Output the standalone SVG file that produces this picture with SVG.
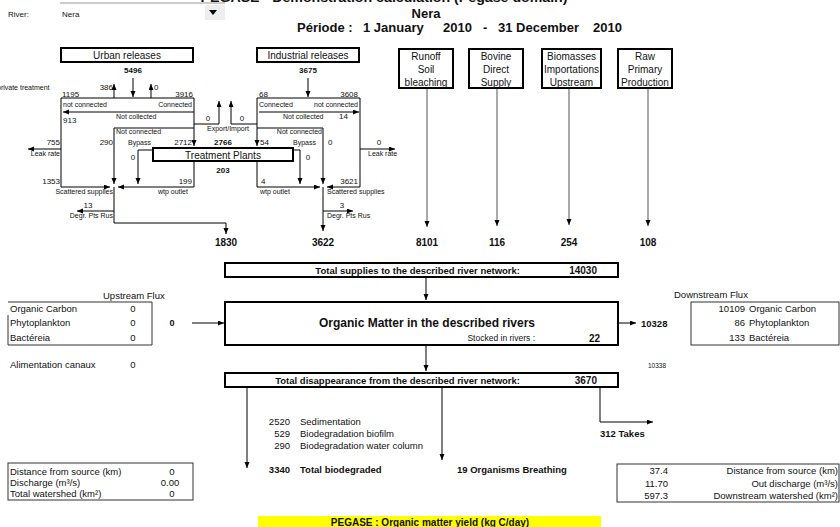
<svg xmlns="http://www.w3.org/2000/svg" width="840" height="527" viewBox="0 0 840 527">
<style>
text{font-family:"Liberation Sans",Arial,Helvetica,sans-serif;fill:#111}
.s{font-size:7px}
.n{font-size:8px}
.nb{font-size:8px;font-weight:bold}
.v{font-size:10px;font-weight:bold}
.m{font-size:10px}
.r{font-size:9.5px}
.rb{font-size:9.5px;font-weight:bold}
.t{font-size:13px;font-weight:bold}
.c{text-anchor:middle}
.e{text-anchor:end}
.box{fill:#fff;stroke:#000;stroke-width:2}
.tbl{fill:none;stroke:#333;stroke-width:1}
.ln{fill:none;stroke:#000;stroke-width:1}
.g{stroke:#555}
.ar{marker-end:url(#ah)}
</style>
<defs>
<marker id="ah" markerWidth="6" markerHeight="6" refX="6" refY="2.5" orient="auto" markerUnits="userSpaceOnUse"><path d="M0,0 L6,2.5 L0,5 z" fill="#000"/></marker>
</defs>
<rect width="840" height="527" fill="#fff"/>

<g id="header">
<text class="t" x="384" y="2" text-anchor="middle" textLength="367" lengthAdjust="spacingAndGlyphs">PEGASE - Demonstration calculation (Pegase domain)</text>
<line x1="60" y1="3" x2="225" y2="3" stroke="#999" stroke-width="1"/>
<rect x="205" y="5" width="20" height="15" fill="#eee"/>
<path d="M209,10 L217,10 L213,15 z" fill="#000"/>
<text x="8" y="17" font-size="8" fill="#555">River:</text>
<text x="62" y="17" font-size="8">Nera</text>
<text class="t c" x="426" y="18">Nera</text>
<text class="t" x="297" y="32">Période :</text>
<text class="t" x="363" y="32">1 January</text>
<text class="t" x="443" y="32">2010</text>
<text class="t" x="483" y="32">-</text>
<text class="t" x="498" y="32">31 December</text>
<text class="t" x="593" y="32">2010</text>
</g>

<g id="connectors">
<!-- urban -->
<path class="ln ar" d="M61,98 H194 V146"/>
<path class="ln ar" d="M61,98 V187 H110"/>
<path class="ln ar" d="M194,112 H63"/>
<path class="ln ar" d="M194,124 H219 V101"/>
<path class="ln ar" d="M257,124 H231 V101"/>
<path class="ln" d="M114,128 H194"/>
<path class="ln ar" d="M114,128 V184"/>
<path class="ln ar" d="M153,150 H138 V184"/>
<path class="ln ar" d="M194,162 V187 H118"/>
<path class="ln ar" d="M61,149 H28"/>
<path class="ln ar" d="M114,187 V223 H226 V234"/>
<path class="ln ar" d="M114,211 H77"/>
<path class="ln ar" d="M114,98 V84"/>
<path class="ln ar" d="M151,98 V84"/>
<path class="ln ar" d="M133,78 V97"/>
<!-- industrial -->
<path class="ln ar" d="M257,98 H360 V187 H327"/>
<path class="ln ar" d="M257,98 V146"/>
<path class="ln ar" d="M259,112 H359"/>
<path class="ln ar" d="M257,128 H323 V184"/>
<path class="ln ar" d="M293,150 H300 V184"/>
<path class="ln ar" d="M257,162 V187 H320"/>
<path class="ln ar" d="M360,149 H395"/>
<path class="ln ar" d="M323,187 V231"/>
<path class="ln ar" d="M323,211 H353"/>
<path class="ln ar" d="M308,78 V97"/>
<!-- other sources -->
<path class="ln g ar" d="M427,88 V227"/>
<path class="ln g ar" d="M497,88 V226"/>
<path class="ln g ar" d="M569,88 V225"/>
<path class="ln g ar" d="M648,88 V226"/>
<!-- main flow -->
<path class="ln ar" d="M426,277 V300"/>
<path class="ln ar" d="M426,345 V371"/>
<path class="ln ar" d="M192,323 H224"/>
<path class="ln ar" d="M619,323 H636"/>
<path class="ln ar" d="M247,388 V468"/>
<path class="ln ar" d="M442,388 V460"/>
<path class="ln ar" d="M600,388 V422 H653"/>
</g>

<g id="urban">
<rect class="box" x="61" y="48" width="132" height="14"/>
<text class="m c" x="127" y="58.5">Urban releases</text>
<text class="nb c" x="133" y="73">5496</text>
<text class="s" x="-3" y="90">private treatment</text>
<text class="n e" x="113" y="90">386</text>
<text class="n" x="154" y="90">0</text>
<text class="n" x="62" y="96.5">1195</text>
<text class="n e" x="193" y="96.5">3916</text>
<text class="s" x="63" y="107">not connected</text>
<text class="s e" x="192" y="107">Connected</text>
<text class="s" x="116" y="119">Not collected</text>
<text class="n" x="63" y="123">913</text>
<text class="s" x="116" y="134">Not connected</text>
<text class="n e" x="113" y="145">290</text>
<text class="s" x="128" y="145">Bypass</text>
<text class="n e" x="192" y="145">2712</text>
<text class="n e" x="60" y="145">755</text>
<text class="s e" x="60" y="156">Leak rate</text>
<text class="n c" x="133" y="160">0</text>
<text class="n e" x="60" y="184">1353</text>
<text class="s e" x="113" y="194">Scattered supplies</text>
<text class="n e" x="192" y="184">199</text>
<text class="s" x="158" y="194">wtp outlet</text>
<text class="n c" x="88" y="208">13</text>
<text class="s e" x="113" y="218">Degr. Pts Rus</text>
<text class="v c" x="226" y="246">1830</text>
</g>

<g id="export-import">
<text class="n c" x="208" y="121">0</text>
<text class="n c" x="242" y="121">0</text>
<text class="s" x="207" y="131">Export/Import</text>
</g>

<g id="treatment">
<rect class="box" x="153" y="148" width="140" height="13"/>
<text class="m c" x="223" y="158.5">Treatment Plants</text>
<text class="nb c" x="223" y="145">2766</text>
<text class="nb c" x="223" y="173">203</text>
</g>

<g id="industrial">
<rect class="box" x="257" y="48" width="102" height="14"/>
<text class="m c" x="308" y="58.5">Industrial releases</text>
<text class="nb c" x="308" y="73">3675</text>
<text class="n" x="259" y="96.5">68</text>
<text class="n e" x="358" y="96.5">3608</text>
<text class="s" x="259" y="107">Connected</text>
<text class="s e" x="358" y="107">not connected</text>
<text class="s" x="283" y="119">Not collected</text>
<text class="n" x="339" y="119">14</text>
<text class="s e" x="322" y="134">Not connected</text>
<text class="n" x="260" y="145">54</text>
<text class="s" x="293" y="145">Bypass</text>
<text class="n" x="328" y="145">0</text>
<text class="n c" x="379" y="145">0</text>
<text class="s" x="368" y="156">Leak rate</text>
<text class="n c" x="308" y="160">0</text>
<text class="n" x="261" y="184">4</text>
<text class="n e" x="358" y="184">3621</text>
<text class="s" x="260" y="194">wtp outlet</text>
<text class="s" x="327" y="194">Scattered supplies</text>
<text class="n c" x="342" y="208">3</text>
<text class="s" x="327" y="218">Degr. Pts Rus</text>
<text class="v c" x="323" y="246">3622</text>
</g>

<g id="runoff">
<rect class="box" x="399" y="49" width="54" height="39"/>
<text class="m c" x="426" y="59.5">Runoff</text>
<text class="m c" x="426" y="72.5">Soil</text>
<text class="m c" x="426" y="85.5">bleaching</text>
<text class="v c" x="427" y="246">8101</text>
</g>
<g id="bovine">
<rect class="box" x="469" y="49" width="54" height="39"/>
<text class="m c" x="496" y="59.5">Bovine</text>
<text class="m c" x="496" y="72.5">Direct</text>
<text class="m c" x="496" y="85.5">Supply</text>
<text class="v c" x="497" y="246">116</text>
</g>
<g id="biomasses">
<rect class="box" x="542" y="49" width="59" height="39"/>
<text class="m c" x="571.5" y="59.5">Biomasses</text>
<text class="m c" x="571.5" y="72.5">Importations</text>
<text class="m c" x="571.5" y="85.5">Upstream</text>
<text class="v c" x="569" y="246">254</text>
</g>
<g id="raw">
<rect class="box" x="618" y="49" width="54" height="39"/>
<text class="m c" x="645" y="59.5">Raw</text>
<text class="m c" x="645" y="72.5">Primary</text>
<text class="m c" x="645" y="85.5">Production</text>
<text class="v c" x="648" y="246">108</text>
</g>

<g id="total-supplies">
<rect class="box" x="225" y="263" width="393" height="14"/>
<text class="rb e" x="520" y="273.5">Total supplies to the described river network:</text>
<text class="v e" x="597" y="274">14030</text>
</g>

<g id="organic-matter">
<rect class="box" x="225" y="302" width="393" height="43"/>
<text class="c" x="427" y="327" font-size="12" font-weight="bold">Organic Matter in the described rivers</text>
<text class="e" x="535" y="341" font-size="8.5">Stocked in rivers :</text>
<text class="v e" x="600" y="342">22</text>
</g>

<g id="disappearance">
<rect class="box" x="225" y="373" width="393" height="14"/>
<text class="rb e" x="520" y="383.5">Total disappearance from the described river network:</text>
<text class="v e" x="597" y="384">3670</text>
</g>

<g id="upstream">
<text class="r" x="103" y="299">Upstream Flux</text>
<path class="tbl" d="M8,302 H152 V345 H8 V315"/>
<text class="r" x="10" y="312">Organic Carbon</text>
<text class="r" x="10" y="326">Phytoplankton</text>
<text class="r" x="10" y="341">Bactéreia</text>
<text class="r c" x="133" y="312">0</text>
<text class="r c" x="133" y="326">0</text>
<text class="r c" x="133" y="341">0</text>
<text class="c" x="172" y="326" font-size="9" font-weight="bold">0</text>
<text class="r" x="10" y="368">Alimentation canaux</text>
<text class="r c" x="133" y="368">0</text>
</g>

<g id="downstream">
<text class="r" x="674" y="298">Downstream Flux</text>
<rect class="tbl" x="691" y="302" width="148" height="43"/>
<text class="r e" x="745" y="312">10109</text>
<text class="r" x="749" y="312">Organic Carbon</text>
<text class="r e" x="745" y="326">86</text>
<text class="r" x="749" y="326">Phytoplankton</text>
<text class="r e" x="745" y="341">133</text>
<text class="r" x="749" y="341">Bactéreia</text>
<text x="641" y="327" font-size="9.5" font-weight="bold">10328</text>
<text x="648" y="368" font-size="6.5" fill="#444">10338</text>
</g>

<g id="losses">
<text class="r e" x="290" y="425">2520</text>
<text class="r" x="300" y="425">Sedimentation</text>
<text class="r e" x="290" y="437">529</text>
<text class="r" x="300" y="437">Biodegradation biofilm</text>
<text class="r e" x="290" y="449">290</text>
<text class="r" x="300" y="449">Biodegradation water column</text>
<text class="rb e" x="290" y="473">3340</text>
<text class="rb" x="300" y="473">Total biodegraded</text>
<text class="rb" x="457" y="473">19 Organisms Breathing</text>
<text class="rb" x="600" y="437">312 Takes</text>
</g>

<g id="source-info">
<rect class="tbl" x="8" y="463" width="185" height="37"/>
<text class="r" x="10" y="475">Distance from source (km)</text>
<text class="r" x="10" y="486">Discharge (m³/s)</text>
<text class="r" x="10" y="497">Total watershed (km²)</text>
<text class="r c" x="172" y="475">0</text>
<text class="r c" x="170" y="486">0.00</text>
<text class="r c" x="172" y="497">0</text>
</g>

<g id="outlet-info">
<rect class="tbl" x="617" y="464" width="222" height="38"/>
<text class="r e" x="668" y="474">37.4</text>
<text class="r e" x="668" y="487">11.70</text>
<text class="r e" x="668" y="499">597.3</text>
<text class="r e" x="838" y="474">Distance from source (km)</text>
<text class="r e" x="838" y="487">Out discharge (m³/s)</text>
<text class="r e" x="838" y="499">Downstream watershed (km²)</text>
</g>

<g id="footer">
<rect x="258" y="516" width="343" height="12" fill="#ffff00"/>
<text class="c" x="430" y="526" font-size="10" font-weight="bold">PEGASE : Organic matter yield (kg C/day)</text>
</g>
</svg>
